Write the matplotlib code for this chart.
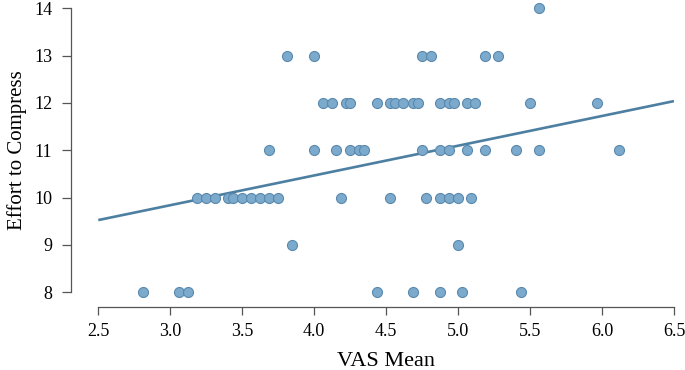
import numpy as np
import matplotlib
matplotlib.use("Agg")
import matplotlib.pyplot as plt

# VAS mean per participant, grouped by effort score
x8 = [2.81, 3.06, 3.125, 4.435, 4.685, 4.875, 5.03, 5.435]
x9 = [3.843, 5.0]
x10 = [3.185, 3.25, 3.3125, 3.40, 3.4375, 3.50, 3.5625, 3.625, 3.6875, 3.75,
       4.1875, 4.53, 4.78, 4.875, 4.935, 5.0, 5.09]
x11 = [3.6875, 4.0, 4.155, 4.248, 4.3125, 4.343, 4.75, 4.875, 4.935, 5.06,
       5.185, 5.40, 5.56, 6.12]
x12 = [4.0625, 4.125, 4.218, 4.25, 4.435, 4.53, 4.56, 4.62, 4.685, 4.72,
       4.875, 4.935, 4.97, 5.06, 5.12, 5.5, 5.965]
x13 = [3.8125, 4.0, 4.75, 4.81, 5.185, 5.278]
x14 = [5.56]

# regression line as shown in the chart (some points overlap, so refitting drifts)
fit_intercept = 7.955
fit_slope = 0.628

groups = {8: x8, 9: x9, 10: x10, 11: x11, 12: x12, 13: x13, 14: x14}
vas = np.concatenate([np.array(v, float) for v in groups.values()])
effort = np.concatenate([np.full(len(v), k, float) for k, v in groups.items()])

x_ticks = [2.5, 3.0, 3.5, 4.0, 4.5, 5.0, 5.5, 6.0, 6.5]
y_ticks = [8, 9, 10, 11, 12, 13, 14]

plt.rcParams['font.family'] = ['Liberation Serif', 'DejaVu Serif']

fig = plt.figure(figsize=(6.85, 3.70), dpi=100)
ax = fig.add_axes([0.1435, 0.21, 0.8404, 0.768])

xs = np.array([x_ticks[0], x_ticks[-1]])
ax.plot(xs, fit_intercept + fit_slope * xs, color='#4d7fa1', lw=1.9, zorder=2,
        solid_capstyle='butt')

ax.scatter(vas, effort, s=52, facecolor='#7caacd', edgecolor='#5a89ad',
           linewidth=0.8, zorder=3, clip_on=False)

ax.set_xlim(2.5, 6.5)
ax.set_ylim(8, 14)
ax.set_xticks(x_ticks)
ax.set_xticklabels([f"{t:.1f}" for t in x_ticks])
ax.set_yticks(y_ticks)

for s in ['top', 'right']:
    ax.spines[s].set_visible(False)
ax.spines['left'].set_position(('outward', 20))
ax.spines['bottom'].set_position(('outward', 10.5))
for s in ['left', 'bottom']:
    ax.spines[s].set_color('#555555')
    ax.spines[s].set_linewidth(0.9)
ax.tick_params(axis='both', colors='#555555', labelcolor='black', labelsize=13,
               length=6, width=0.9)
ax.tick_params(axis='x', pad=5.5)
ax.tick_params(axis='y', length=6.5, pad=6.5)

ax.set_xlabel('VAS Mean', fontsize=16, labelpad=9)
ax.set_ylabel('Effort to Compress', fontsize=15, labelpad=5)

fig.savefig('out.png', dpi=100)
